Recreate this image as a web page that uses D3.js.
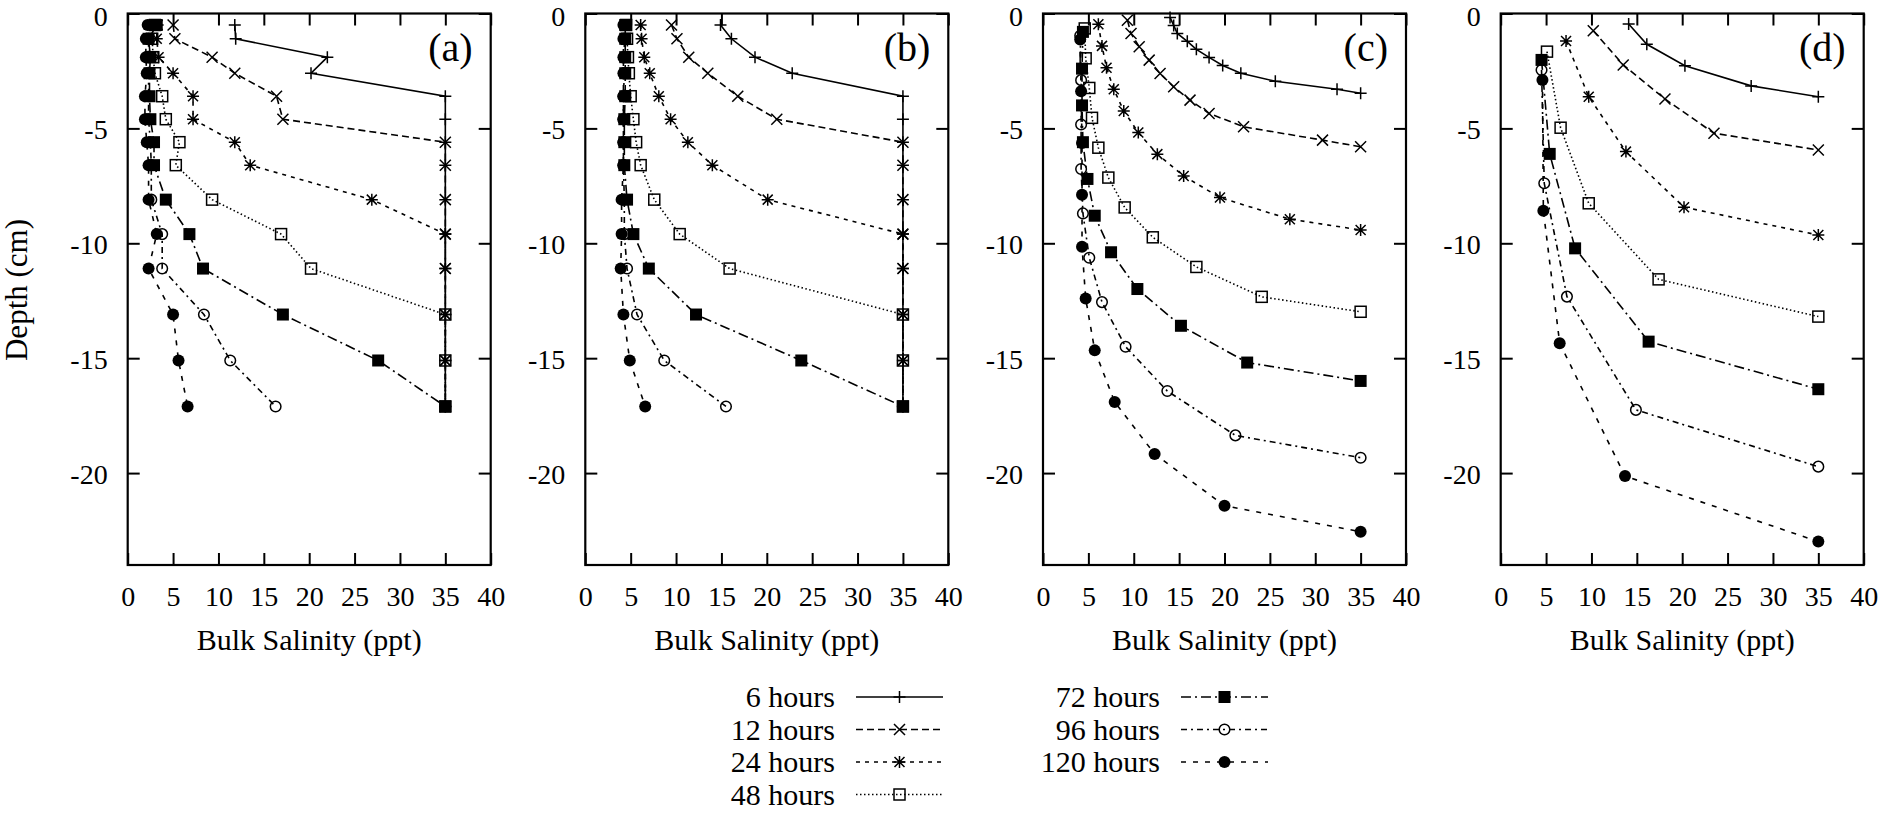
<!DOCTYPE html>
<html><head><meta charset="utf-8">
<script src="https://cdn.jsdelivr.net/npm/d3@7"></script>
<style>
body{margin:0;background:#fff}
svg text{font-family:"Liberation Serif","Times New Roman",serif;fill:#000}
</style>
</head><body>
<svg id="chart" width="1881" height="814"></svg>
<script>
// ---------- data ----------
const seriesNames = ["6 hours","12 hours","24 hours","48 hours","72 hours","96 hours","120 hours"];
const panelNames = ["(a)","(b)","(c)","(d)"];
const xTickValues = [0,5,10,15,20,25,30,35,40];
const yTickValues = [0,-5,-10,-15,-20];
const xTitle = "Bulk Salinity (ppt)";
const yTitle = "Depth (cm)";

// panels (a) and (b): measured sample depths (cm)
const depthAB = [-0.5,-1.1,-1.9,-2.6,-3.6,-4.6,-5.6,-6.6,-8.1,-9.6,-11.1,-13.1,-15.1,-17.1];

const salA = [
  [11.8,11.9,22.0,20.2,35,35,35,35,35,35,35,35,35,35],
  [5.0,5.2,9.3,11.8,16.4,17.1,35,35,35,35,35,35,35,35],
  [3.3,3.2,3.4,5.0,7.2,7.2,11.8,13.5,26.9,35,35,35,35,35],
  [3.0,2.7,2.8,3.0,3.8,4.2,5.7,5.3,9.3,16.9,20.2,35,35,35],
  [3.2,2.3,2.5,2.4,2.4,2.5,2.9,2.9,4.2,6.8,8.3,17.1,27.6,35],
  [2.6,2.3,2.3,2.3,2.3,2.3,2.5,2.6,2.6,3.8,3.8,8.4,11.3,16.3],
  [2.2,2.0,2.0,2.1,1.9,1.9,2.1,2.3,2.3,3.2,2.3,5.0,5.6,6.6]
];
const salB = [
  [14.9,16.1,18.7,22.8,35,35,35,35,35,35,35,35,35,35],
  [9.5,10.1,11.4,13.5,16.8,21.1,35,35,35,35,35,35,35,35],
  [6.1,6.2,6.5,7.1,8.1,9.4,11.3,14.0,20.1,35,35,35,35,35],
  [4.5,4.6,4.7,4.8,5.0,5.3,5.6,6.1,7.6,10.4,15.9,35,35,35],
  [4.4,4.4,4.4,4.4,4.4,4.3,4.3,4.3,4.6,5.3,7.0,12.2,23.8,35],
  [4.3,4.3,4.3,4.3,4.2,4.2,4.2,4.2,4.3,4.3,4.6,5.7,8.7,15.5],
  [4.2,4.2,4.2,4.2,4.2,4.2,4.2,4.2,4.0,4.0,3.9,4.2,4.9,6.6]
];

// panel (c): model output
const depthC = [
  [-0.17,-0.52,-0.87,-1.21,-1.56,-1.91,-2.26,-2.60,-2.95,-3.30,-3.47],
  [-0.29,-0.87,-1.45,-2.03,-2.61,-3.19,-3.77,-4.35,-4.93,-5.51,-5.80],
  [-0.47,-1.41,-2.36,-3.30,-4.24,-5.18,-6.12,-7.07,-8.01,-8.95,-9.42],
  [-0.65,-1.95,-3.24,-4.54,-5.84,-7.14,-8.44,-9.74,-11.03,-12.33,-12.98],
  [-0.80,-2.40,-4.00,-5.60,-7.20,-8.80,-10.39,-11.99,-13.59,-15.19,-15.99],
  [-0.97,-2.90,-4.83,-6.77,-8.70,-10.63,-12.56,-14.50,-16.43,-18.36,-19.33],
  [-1.13,-3.38,-5.64,-7.89,-10.15,-12.40,-14.66,-16.91,-19.17,-21.42,-22.55]
];
const salC = [
  [14.0,14.4,14.8,15.9,16.9,18.3,19.8,21.8,25.6,32.4,35],
  [9.3,9.7,10.6,11.7,12.9,14.4,16.2,18.3,22.1,30.8,35],
  [6.1,6.5,7.0,7.8,8.9,10.5,12.6,15.5,19.5,27.2,35],
  [4.6,4.7,5.1,5.4,6.1,7.2,9.0,12.1,16.9,24.1,35],
  [4.4,4.3,4.3,4.4,4.9,5.7,7.5,10.4,15.2,22.5,35],
  [4.1,4.2,4.2,4.2,4.4,5.1,6.5,9.1,13.7,21.2,35],
  [4.1,4.2,4.3,4.3,4.3,4.7,5.7,7.9,12.3,20.0,35]
];

// panel (d): model output
const depthD = [
  [-0.46,-1.34,-2.27,-3.15,-3.62],
  [-0.75,-2.24,-3.72,-5.21,-5.94],
  [-1.20,-3.62,-6.01,-8.43,-9.64],
  [-1.66,-4.97,-8.26,-11.57,-13.19],
  [-2.02,-6.11,-10.22,-14.28,-16.35],
  [-2.46,-7.39,-12.32,-17.25,-19.72],
  [-2.89,-8.58,-14.35,-20.13,-22.98]
];
const salD = [
  [14.1,16.1,20.3,27.6,35],
  [10.2,13.5,18.1,23.5,35],
  [7.2,9.7,13.8,20.2,35],
  [5.1,6.6,9.7,17.4,35],
  [4.5,5.4,8.2,16.3,35],
  [4.5,4.8,7.3,14.9,35],
  [4.6,4.7,6.5,13.7,35]
];

// ---------- styles ----------
const dashStyles = [null,"7,4","4,5","1.5,2.5","10,4,2,4","6,4,2,4","5,7"];
const markerTypes = ["plus","cross","star","square","squareFilled","circle","circleFilled"];

const panelsDepth = [depthAB, depthAB, depthC, depthD];
const panelsSal = [salA, salB, salC, salD];

const svg = d3.select("#chart");
const plotW = 363, plotTop = 13.5, plotBottom = 565;
const lefts = [127.7, 585.3, 1043, 1500.7];
const serif = "'Liberation Serif','Times New Roman',serif";

function drawMarker(g, type, x, y) {
  const s = 6;
  if (type === "plus") {
    g.append("path").attr("d", `M${x-s},${y}H${x+s}M${x},${y-s}V${y+s}`).attr("stroke","#000").attr("stroke-width",1.5);
  } else if (type === "cross") {
    const c = 5.5;
    g.append("path").attr("d", `M${x-c},${y-c}L${x+c},${y+c}M${x-c},${y+c}L${x+c},${y-c}`).attr("stroke","#000").attr("stroke-width",1.5);
  } else if (type === "star") {
    const c = 5;
    g.append("path").attr("d", `M${x-c},${y-c}L${x+c},${y+c}M${x-c},${y+c}L${x+c},${y-c}M${x-s},${y}H${x+s}M${x},${y-s}V${y+s}`).attr("stroke","#000").attr("stroke-width",1.5);
  } else if (type === "square") {
    g.append("rect").attr("x",x-5.5).attr("y",y-5.5).attr("width",11).attr("height",11).attr("fill","none").attr("stroke","#000").attr("stroke-width",1.5);
  } else if (type === "squareFilled") {
    g.append("rect").attr("x",x-6).attr("y",y-6).attr("width",12).attr("height",12).attr("fill","#000");
  } else if (type === "circle") {
    g.append("circle").attr("cx",x).attr("cy",y).attr("r",5.3).attr("fill","none").attr("stroke","#000").attr("stroke-width",1.5);
  } else if (type === "circleFilled") {
    g.append("circle").attr("cx",x).attr("cy",y).attr("r",6).attr("fill","#000");
  }
}

panelNames.forEach((pname, p) => {
  const L = lefts[p];
  const x = d3.scaleLinear().domain([0,40]).range([L, L+plotW]);
  const y = d3.scaleLinear().domain([-24,0]).range([plotBottom, plotTop]);
  const g = svg.append("g");

  const axB = g.append("g").attr("transform",`translate(0,${plotBottom})`)
    .call(d3.axisBottom(x).tickValues(xTickValues).tickSize(-12).tickFormat(d3.format("d")));
  const axT = g.append("g").attr("transform",`translate(0,${plotTop})`)
    .call(d3.axisTop(x).tickValues(xTickValues).tickSize(-12).tickFormat(""));
  const axL = g.append("g").attr("transform",`translate(${L},0)`)
    .call(d3.axisLeft(y).tickValues(yTickValues).tickSize(-12).tickPadding(20).tickFormat(d => d === 0 ? "0" : "-" + Math.abs(d)));
  const axR = g.append("g").attr("transform",`translate(${L+plotW},0)`)
    .call(d3.axisRight(y).tickValues(yTickValues).tickSize(-12).tickFormat(""));
  [axB,axT,axL,axR].forEach(a => {
    a.select(".domain").remove();
    a.selectAll(".tick line").attr("stroke","#000").attr("stroke-width",2);
    a.selectAll("text").style("font-size","28px").style("font-family",serif).attr("fill","#000");
  });
  axB.selectAll("text").attr("dy", null).attr("y", 41);
  axL.selectAll("text").attr("dy", d => d === 0 ? "12px" : "10px");

  g.append("rect").attr("x",L).attr("y",plotTop).attr("width",plotW).attr("height",plotBottom-plotTop)
    .attr("fill","none").attr("stroke","#000").attr("stroke-width",2.2);

  g.append("text").attr("x",L+plotW-18).attr("y",61).attr("text-anchor","end")
    .style("font-size","40px").text(pname);

  g.append("text").attr("x",L+plotW/2).attr("y",650).attr("text-anchor","middle")
    .style("font-size","30px").text(xTitle);

  const depths = panelsDepth[p], sals = panelsSal[p];
  seriesNames.forEach((name, s) => {
    const dep = (depths === depthAB) ? depthAB : depths[s];
    const pts = sals[s].map((v,i) => [v, dep[i]]);
    const line = d3.line().x(d => x(d[0])).y(d => y(d[1]));
    g.append("path").attr("d", line(pts)).attr("fill","none").attr("stroke","#000")
      .attr("stroke-width",1.6).attr("stroke-dasharray", dashStyles[s]);
    const mg = g.append("g");
    pts.forEach(d => drawMarker(mg, markerTypes[s], x(d[0]), y(d[1])));
  });
});

svg.append("text").attr("transform","translate(27,290) rotate(-90)").attr("text-anchor","middle")
  .style("font-size","31px").text(yTitle);

const legCols = [{tx:835, x1:856, x2:943}, {tx:1160, x1:1181, x2:1268}];
const legRowY = [697, 729.5, 762, 794.5];
seriesNames.forEach((name, s) => {
  const col = legCols[s < 4 ? 0 : 1];
  const ry = legRowY[s < 4 ? s : s - 4];
  const lg = svg.append("g");
  lg.append("text").attr("x", col.tx).attr("y", ry).attr("dy","0.34em").attr("text-anchor","end")
    .style("font-size","30px").text(name);
  lg.append("line").attr("x1",col.x1).attr("x2",col.x2).attr("y1",ry).attr("y2",ry)
    .attr("stroke","#000").attr("stroke-width",1.5).attr("stroke-dasharray", dashStyles[s]);
  drawMarker(lg, markerTypes[s], (col.x1+col.x2)/2, ry);
});
</script>
</body></html>
